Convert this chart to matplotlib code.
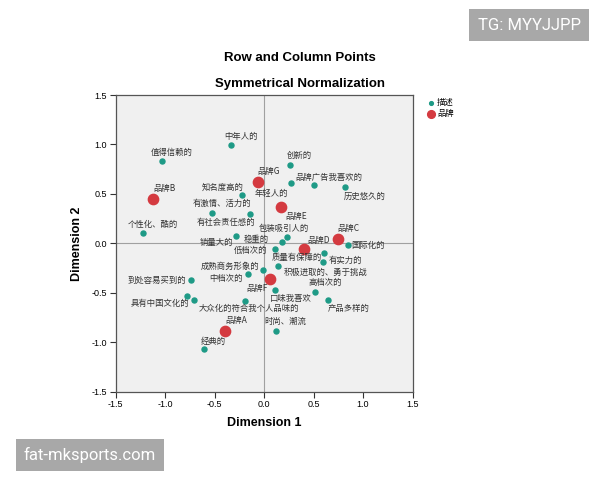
import matplotlib.pyplot as plt

plt.rcParams['font.family'] = ['Noto Sans CJK SC', 'DejaVu Sans']

# description points (teal)
desc_labels = ['中年人的', '值得信赖的', '个性化、酷的', '知名度高的', '有激情、活力的',
               '有社会责任感的', '创新的', '品牌广告我喜欢的', '年轻人的', '历史悠久的',
               '包装吸引人的', '稳重的', '销量大的', '低档次的', '国际化的',
               '质量有保障的', '有实力的', '积极进取的、勇于挑战', '成熟商务形象的', '中档次的',
               '高档次的', '口味我喜欢', '产品多样的', '大众化的符合我个人品味的', '时尚、潮流',
               '经典的', '到处容易买到的', '具有中国文化的', '']
desc_x = [-0.33, -1.03, -1.22, -0.22, -0.53,
          -0.14, 0.26, 0.51, 0.27, 0.82,
          0.23, 0.18, -0.28, 0.11, 0.85,
          0.61, 0.60, 0.14, -0.01, -0.16,
          0.52, 0.11, 0.65, -0.19, 0.12,
          -0.61, -0.74, -0.71, -0.78]
desc_y = [0.99, 0.83, 0.10, 0.49, 0.31,
          0.30, 0.79, 0.59, 0.61, 0.57,
          0.06, 0.01, 0.07, -0.06, -0.02,
          -0.10, -0.19, -0.23, -0.27, -0.31,
          -0.49, -0.47, -0.57, -0.58, -0.89,
          -1.07, -0.37, -0.57, -0.53]

# brand points (red)
brand_labels = ['品牌A', '品牌B', '品牌C', '品牌D', '品牌E', '品牌F', '品牌G']
brand_x = [-0.39, -1.12, 0.75, 0.40, 0.17, 0.06, -0.06]
brand_y = [-0.89, 0.45, 0.04, -0.06, 0.37, -0.36, 0.62]

# label offsets in pixels (layout only)
desc_off = [(10, 9), (10, 9), (10, 9), (-20, 8), (10, 9),
            (-24, -9), (10, 10), (14, 8), (-19, -10), (20, -9),
            (-3, 9), (-26, 3), (-20, -6), (-24, -1), (20, 0),
            (-28, -4), (22, 2), (48, -6), (-33, 4), (-22, -4),
            (10, 9), (16, -9), (20, -9), (4, -8), (9, 10),
            (10, 8), (-34, 0), (-34, -4), (0, 0)]
brand_off = [(11, 11), (11, 10), (10, 11), (15, 9), (15, -10), (-13, -10), (11, 11)]

teal = '#1e9a86'
red = '#d43a40'

fig = plt.figure(figsize=(6, 4.8), dpi=100)
ax = fig.add_axes([0.1925, 0.184, 0.495, 0.618])
ax.set_facecolor('#f0f0f0')

ax.axhline(0, color='#a0a0a0', lw=0.8, zorder=1)
ax.axvline(0, color='#a0a0a0', lw=0.8, zorder=1)

ax.scatter(desc_x, desc_y, s=13, color=teal, zorder=3, label='描述')
ax.scatter(brand_x, brand_y, s=55, color=red, zorder=3, label='品牌')

for lab, x, y, off in zip(desc_labels, desc_x, desc_y, desc_off):
    if lab:
        ax.annotate(lab, (x, y), xytext=off, textcoords='offset pixels',
                    ha='center', va='center', fontsize=6, color='#333333')
for lab, x, y, off in zip(brand_labels, brand_x, brand_y, brand_off):
    ax.annotate(lab, (x, y), xytext=off, textcoords='offset pixels',
                ha='center', va='center', fontsize=6, color='#333333')

ax.set_xlim(-1.5, 1.5)
ax.set_ylim(-1.5, 1.5)
ticks = [-1.5, -1.0, -0.5, 0.0, 0.5, 1.0, 1.5]
ax.set_xticks(ticks)
ax.set_yticks(ticks)
ax.set_xticklabels(['%.1f' % t for t in ticks], family='Liberation Sans', fontsize=6.5)
ax.set_yticklabels(['%.1f' % t for t in ticks], family='Liberation Sans', fontsize=6.5)
ax.tick_params(direction='out', length=4, width=0.8, color='#333333', pad=2)
for s in ax.spines.values():
    s.set_color('#555555')
    s.set_linewidth(0.9)

ax.set_xlabel('Dimension 1', family='Liberation Sans', fontweight='bold', fontsize=9, labelpad=6)
ax.set_ylabel('Dimension 2', family='Liberation Sans', fontweight='bold', fontsize=9, labelpad=6)

fig.text(0.5, 1 - 58 / 480, 'Row and Column Points', family='Liberation Sans',
         fontweight='bold', fontsize=9.5, ha='center', va='center')
fig.text(0.5, 1 - 84 / 480, 'Symmetrical Normalization', family='Liberation Sans',
         fontweight='bold', fontsize=9.5, ha='center', va='center')

leg = ax.legend(loc='upper left', bbox_to_anchor=(1.04, 1.0), frameon=False,
                fontsize=6, handletextpad=0.3, borderaxespad=0, labelspacing=0.25,
                handlelength=0.8, markerscale=0.75)

# watermark boxes
fig.text(0.882, 1 - 25 / 480, 'TG: MYYJJPP', color='white', fontsize=12,
         family='Roboto', ha='center', va='center',
         bbox=dict(boxstyle='square,pad=0.5', fc='#a8a8a8', ec='none'))
fig.text(0.15, 1 - 455 / 480, 'fat-mksports.com', color='white', fontsize=12,
         family='Roboto', ha='center', va='center',
         bbox=dict(boxstyle='square,pad=0.45', fc='#a8a8a8', ec='none'))

fig.savefig('out.png', dpi=100)
